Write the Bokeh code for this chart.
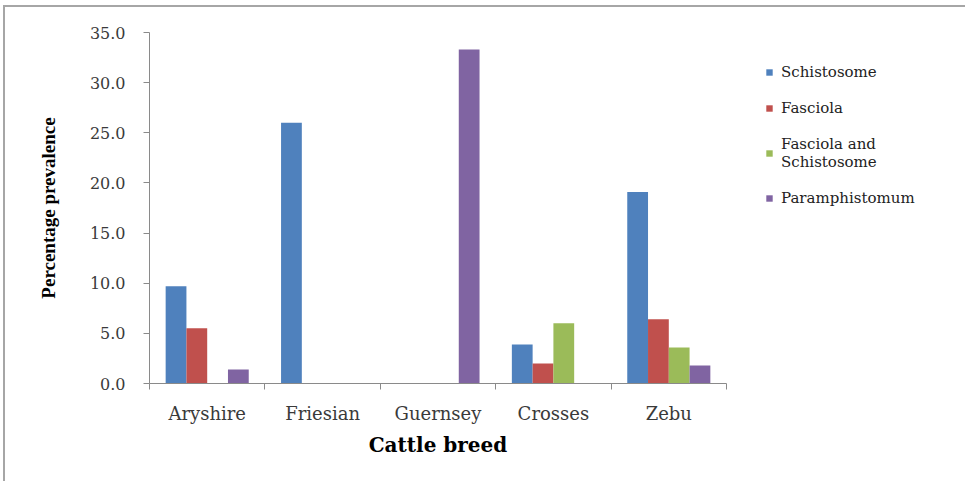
from bokeh.plotting import figure
from bokeh.layouts import row, column
from bokeh.models import (Range1d, LinearAxis, FixedTicker, NumeralTickFormatter, Spacer,
                          Legend, LegendItem, ColumnDataSource, CustomJSTickFormatter)
from bokeh.embed import file_html
from bokeh.resources import INLINE

# ---- data ----
breeds = ["Aryshire", "Friesian", "Guernsey", "Crosses", "Zebu"]
schistosome = [9.7, 26.0, 0.0, 3.9, 19.1]
fasciola = [5.5, 0.0, 0.0, 2.0, 6.4]
fasciola_schisto = [0.0, 0.0, 0.0, 6.0, 3.6]
paramphistomum = [1.4, 0.0, 33.3, 0.0, 1.8]
series_names = ["Schistosome", "Fasciola", "Fasciola and\nSchistosome", "Paramphistomum"]
series_values = [schistosome, fasciola, fasciola_schisto, paramphistomum]
colors = ["#4F81BD", "#C0504D", "#9BBB59", "#8064A2"]
y_ticks = [0, 5, 10, 15, 20, 25, 30, 35]

SERIF = "DejaVu Serif"
AXIS_GRAY = "#8a8a8a"

p = figure(frame_width=575, frame_height=349, output_backend="svg", toolbar_location=None,
           x_range=Range1d(0, len(breeds)), y_range=Range1d(0, 35),
           min_border_left=144, min_border_top=25, min_border_right=222,
           min_border_bottom=100, x_axis_type=None, y_axis_type=None,
           styles={"border-left": "2px solid #a6a6a6", "border-top": "2px solid #a6a6a6",
                   "border-right": "none", "border-bottom": "none"})
p.outline_line_color = None
p.xgrid.visible = False
p.ygrid.visible = False
p.background_fill_color = "white"
p.border_fill_color = "white"

bw = 0.18
n = len(series_values)
renderers = []
for k, (vals, col) in enumerate(zip(series_values, colors)):
    off = (k - (n - 1) / 2) * bw
    src = ColumnDataSource(dict(x=[i + 0.5 + off for i in range(len(breeds))], top=vals))
    r = p.vbar(x="x", top="top", bottom=0, width=bw, source=src,
               fill_color=col, line_color=None)
    renderers.append(r)

# y axis
yax = LinearAxis(ticker=FixedTicker(ticks=y_ticks),
                 formatter=NumeralTickFormatter(format="0.0"))
yax.axis_line_color = AXIS_GRAY
yax.major_tick_line_color = AXIS_GRAY
yax.major_tick_out = 6
yax.major_tick_in = 0
yax.minor_tick_line_color = None
yax.major_label_text_font = SERIF
yax.major_label_text_font_size = "16px"
yax.major_label_text_color = "#3a3a3a"
yax.major_label_standoff = 18
yax.axis_label = "Percentage prevalence"
yax.axis_label_text_font = "Liberation Serif"
yax.axis_label_text_font_style = "bold"
yax.axis_label_text_font_size = "19px"
yax.axis_label_text_color = "black"
yax.axis_label_standoff = 28
p.add_layout(yax, "left")

# x axis with ticks at category boundaries
xb = LinearAxis(ticker=FixedTicker(ticks=list(range(len(breeds) + 1))),
                formatter=CustomJSTickFormatter(code="return ''"))
xb.axis_line_color = AXIS_GRAY
xb.major_tick_line_color = AXIS_GRAY
xb.major_tick_out = 6
xb.major_tick_in = 0
xb.minor_tick_line_color = None
xb.major_label_standoff = 0
p.add_layout(xb, "below")

# x axis with category names at centers
centers = [i + 0.5 for i in range(len(breeds))]
xl = LinearAxis(ticker=FixedTicker(ticks=centers),
                major_label_overrides={c: b for c, b in zip(centers, breeds)})
xl.axis_line_color = None
xl.major_tick_line_color = None
xl.minor_tick_line_color = None
xl.major_label_text_font = SERIF
xl.major_label_text_font_size = "18px"
xl.major_label_text_color = "#3a3a3a"
xl.major_label_standoff = 7
xl.axis_label = "Cattle breed"
xl.axis_label_text_font = SERIF
xl.axis_label_text_font_style = "bold"
xl.axis_label_text_font_size = "20px"
xl.axis_label_text_color = "black"
xl.axis_label_standoff = 6
p.add_layout(xl, "below")

legend = Legend(items=[LegendItem(label=nm, renderers=[r]) for nm, r in zip(series_names, renderers)],
                location=(39, 176))
legend.glyph_width = 8
legend.glyph_height = 8
legend.label_standoff = 8
legend.spacing = 18
legend.padding = 0
legend.margin = 0
legend.border_line_color = None
legend.background_fill_alpha = 0
legend.label_text_font = SERIF
legend.label_text_font_size = "15px"
legend.label_text_color = "#222222"
p.add_layout(legend, "right")

layout = row(Spacer(width=3), column(Spacer(height=5), p))
open("out.html", "w").write(file_html(layout, INLINE))
